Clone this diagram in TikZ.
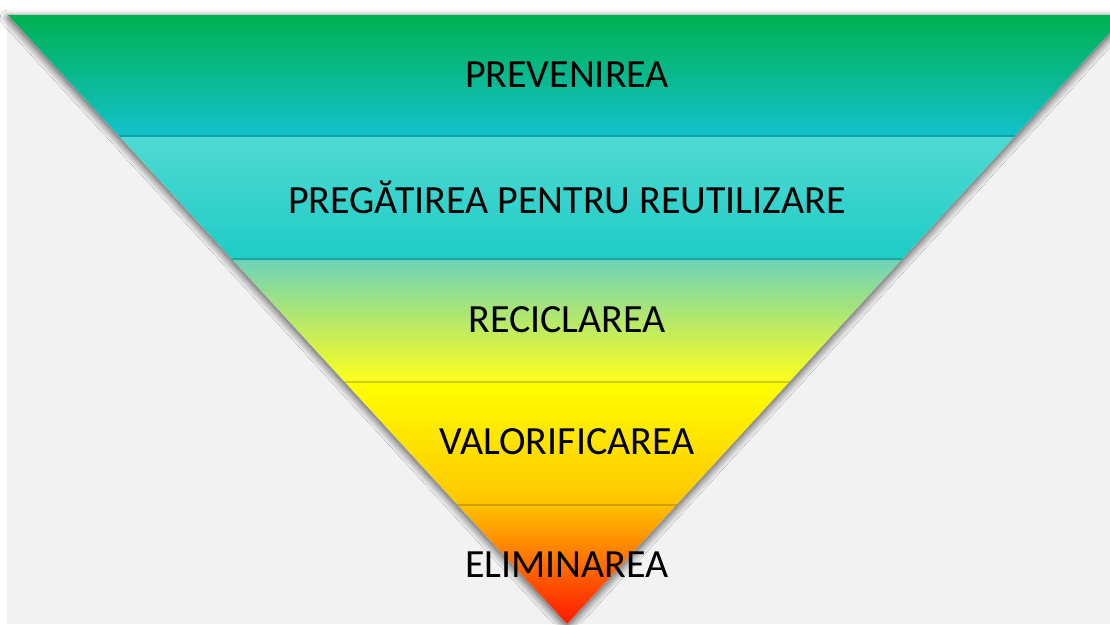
\documentclass[tikz,border=0pt]{standalone}
\usepackage{fontspec}
\setmainfont{Carlito}
\usetikzlibrary{positioning,shadows.blur}
\definecolor{pagegrey}{HTML}{F2F2F2}
\tikzset{
	layer/.style={font=\fontsize{40}{46}\selectfont, text=black, inner sep=0pt},
	layeredge/.style={draw=black, opacity=0.18, line width=2pt}
}

\begin{document}
\begin{tikzpicture}[x=1pt,y=-1pt]
	\useasboundingbox (0,0) rectangle (1110,624);
	\fill[white] (0,0) rectangle (1110,624);
	\fill[pagegrey] (7,14) rectangle (1110,624);
	% funnel with its shadow
	\path[fill=pagegrey, blur shadow={shadow xshift=0pt, shadow yshift=-3pt, shadow blur radius=8pt, shadow blur steps=10, shadow opacity=70}]
		(8,15) -- (1126,15) -- (567,624) -- cycle;
	\begin{scope}
		\clip (8,15) -- (1126,15) -- (567,624) -- cycle;
		\foreach \ytop/\ctop/\cmid/\cbot in {15/{rgb,255:red,0;green,176;blue,80}/{rgb,255:red,13;green,186;blue,152}/{rgb,255:red,18;green,194;blue,207},
			137/{rgb,255:red,79;green,217;blue,211}/{rgb,255:red,51;green,215;blue,208}/{rgb,255:red,31;green,204;blue,198},
			260/{rgb,255:red,110;green,211;blue,184}/{rgb,255:red,205;green,236;blue,128}/{rgb,255:red,255;green,255;blue,26},
			383/{rgb,255:red,255;green,255;blue,0}/{rgb,255:red,255;green,226;blue,0}/{rgb,255:red,255;green,196;blue,0},
			506/{rgb,255:red,255;green,192;blue,0}/{rgb,255:red,255;green,122;blue,0}/{rgb,255:red,255;green,16;blue,0}}
		{
			\shade[top color=\ctop, middle color=\cmid, bottom color=\cbot] (0,\ytop) rectangle (1130,\ytop+123);
		}
		\foreach \yedge in {137,260,383,506}
			\draw[layeredge] (0,\yedge-1) -- (1130,\yedge-1);
	\end{scope}
	% labels
	\node[layer] (prevent) at (567,75) {PREVENIREA};
	\node[layer] (prepare) at (567,197) {PREGĂTIREA PENTRU REUTILIZARE};
	\node[layer] (recycle) at (567,320) {RECICLAREA};
	\node[layer] (recover) at (567,442) {VALORIFICAREA};
	\node[layer] (dispose) at (567,565) {ELIMINAREA};
\end{tikzpicture}
\end{document}
